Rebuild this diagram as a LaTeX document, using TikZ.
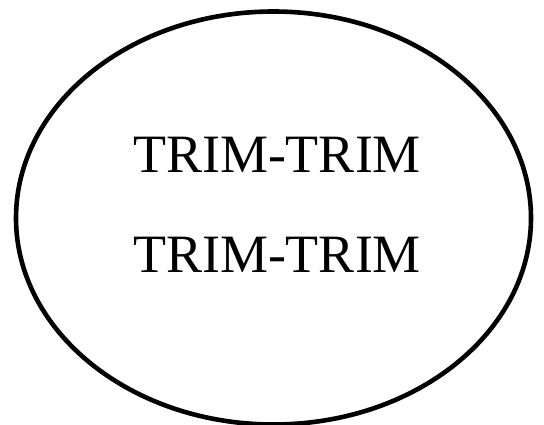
\documentclass[tikz,border=0pt]{standalone}
\usepackage{fontspec}
\setmainfont{Liberation Serif}
\usetikzlibrary{positioning}
\tikzset{
  every node/.style={font=\fontsize{54}{60}\selectfont, text=black, inner sep=0pt},
  outline/.style={draw=black, line width=4.6pt},
  caption/.style={anchor=base},
}
\begin{document}
\begin{tikzpicture}[x=1pt, y=-1pt]
  \useasboundingbox (0,0) rectangle (544,425);
  % Outer ellipse
  \draw[outline] (273.5,218) ellipse [x radius=257.5, y radius=206.5];
  % Two text lines
  \node[caption] (upper) at (277,173) {TRIM-TRIM};
  \node[caption] (lower) at (277,272.5) {TRIM-TRIM};
\end{tikzpicture}
\end{document}
